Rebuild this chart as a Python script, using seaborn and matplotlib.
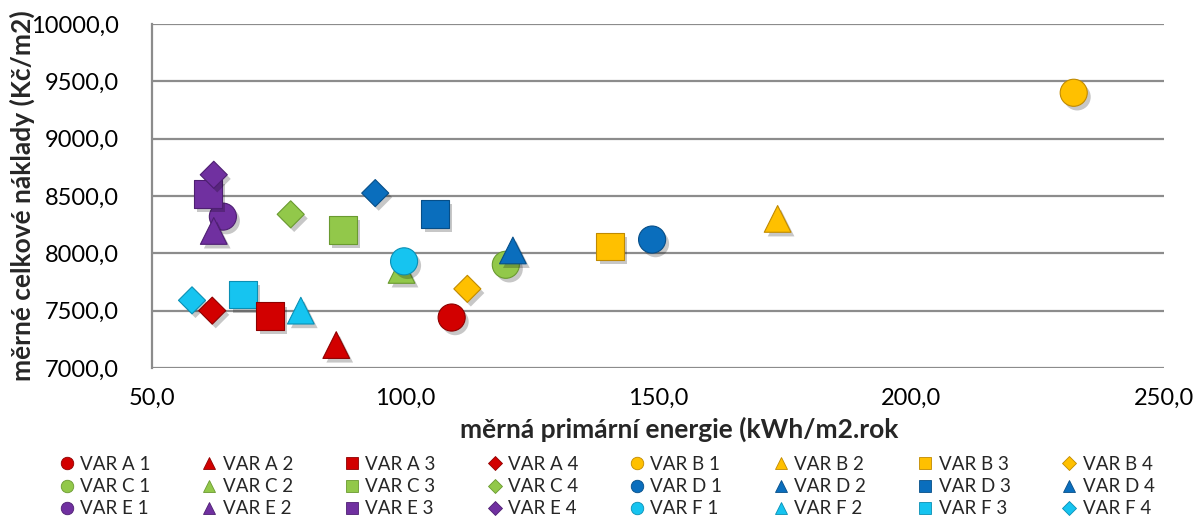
import matplotlib
matplotlib.use("Agg")
import matplotlib.pyplot as plt
import matplotlib.patheffects as pe
from matplotlib.lines import Line2D
from matplotlib.ticker import FuncFormatter, MultipleLocator
import seaborn as sns
import pandas as pd

sns.set_theme(style="white")
plt.rcParams["font.family"] = ["Lato", "DejaVu Sans"]

# Variants: group letter + number
groups = ["A", "B", "C", "D", "E", "F"]
numbers = [1, 2, 3, 4]

# primary energy (kWh/m2.rok) per variant, rows = groups, cols = numbers
energy_a = [109.2, 86.4, 73.3, 61.9]
energy_b = [232.1, 173.6, 140.5, 112.3]
energy_c = [119.9, 99.3, 87.7, 77.4]
energy_d = [148.8, 121.3, 105.9, 94.1]
energy_e = [64.0, 62.2, 61.0, 62.2]
energy_f = [99.8, 79.4, 68.0, 57.9]

# total specific cost (Kč/m2)
cost_a = [7440, 7200, 7450, 7500]
cost_b = [9400, 8300, 8060, 7690]
cost_c = [7900, 7855, 8205, 8340]
cost_d = [8120, 8025, 8345, 8525]
cost_e = [8320, 8195, 8520, 8685]
cost_f = [7930, 7500, 7640, 7590]

group_colors = {
    "A": "#D20000",
    "B": "#FFC000",
    "C": "#92C84A",
    "D": "#0A6EBD",
    "E": "#7030A0",
    "F": "#16C4F0",
}
edge_colors = {
    "A": "#8E0000",
    "B": "#C08A00",
    "C": "#6A9A30",
    "D": "#064E88",
    "E": "#4E1F72",
    "F": "#0A8FB4",
}
# marker in plot, marker in legend
plot_markers = {1: "o", 2: "^", 3: "s", 4: "D"}
legend_markers = {1: "o", 2: "^", 3: "s", 4: "D"}
marker_sizes = {"o": 380, "^": 370, "s": 400, "D": 190}

energy = dict(zip(groups, [energy_a, energy_b, energy_c, energy_d, energy_e, energy_f]))
cost = dict(zip(groups, [cost_a, cost_b, cost_c, cost_d, cost_e, cost_f]))

rows = []
for g in groups:
    for i, n in enumerate(numbers):
        rows.append({"name": f"VAR {g} {n}", "group": g, "num": n,
                     "energy": energy[g][i], "cost": cost[g][i]})
df = pd.DataFrame(rows)

fig = plt.figure(figsize=(11.97, 5.21), dpi=100)
ax = fig.add_axes([0.127, 0.2937, 0.8457, 0.6603])

shadow = [pe.SimplePatchShadow(offset=(2.5, -3), shadow_rgbFace="#000000", alpha=0.22),
          pe.Normal()]

draw_order = ["B", "C", "D", "E", "F", "A"]
for g in draw_order:
    sub = df[df["group"] == g]
    for _, r in sub.iterrows():
        m = plot_markers[r["num"]]
        sns.scatterplot(data=sub[sub["num"] == r["num"]], x="energy", y="cost",
                        marker=m, s=marker_sizes[m], color=group_colors[g],
                        edgecolor=edge_colors[g], linewidth=0.8, ax=ax,
                        legend=False, zorder=3)
for coll in ax.collections:
    coll.set_path_effects(shadow)

ax.set_xlim(50, 250)
ax.set_ylim(7000, 10000)
ax.xaxis.set_major_locator(MultipleLocator(50))
ax.yaxis.set_major_locator(MultipleLocator(500))
fmt = FuncFormatter(lambda v, p: f"{v:.1f}".replace(".", ","))
ax.xaxis.set_major_formatter(fmt)
ax.yaxis.set_major_formatter(fmt)
ax.tick_params(axis="both", labelsize=17, length=0, colors="black")
ax.tick_params(axis="x", pad=14)
ax.tick_params(axis="y", pad=24)

ax.grid(axis="y", color="#8C8C8C", linewidth=1.6)
ax.set_axisbelow(True)
for s in ["top", "right", "bottom"]:
    ax.spines[s].set_visible(False)
ax.spines["left"].set_color("#8C8C8C")
ax.spines["left"].set_linewidth(1.6)

ax.set_xlabel("")
ax.set_ylabel("")
fig.text(0.567, 0.175, "měrná primární energie (kWh/m2.rok", ha="center", va="center",
         fontsize=19, fontweight="bold")
fig.text(0.019, 0.625, "měrné celkové náklady (Kč/m2)", ha="center", va="center",
         rotation=90, fontsize=19, fontweight="bold")

# legend: 3 rows x 8 columns, filled row by row
names = list(df["name"])
handles = []
for _, r in df.iterrows():
    m = legend_markers[r["num"]]
    if r["group"] == "D" and r["num"] == 4:
        m = "^"
    ms = {"o": 9, "^": 9, "s": 9, "D": 7}[m]
    handles.append(Line2D([], [], linestyle="", marker=m, markersize=ms,
                          markerfacecolor=group_colors[r["group"]],
                          markeredgecolor=edge_colors[r["group"]], markeredgewidth=0.6))
ncol, nrow = 8, 3
order = [row * ncol + col for col in range(ncol) for row in range(nrow)]
fig.legend([handles[i] for i in order], [names[i] for i in order],
           loc="center", bbox_to_anchor=(0.507, 0.066), ncol=ncol, frameon=False,
           fontsize=13.5, handlelength=0.8, handletextpad=0.3, columnspacing=2.75,
           labelspacing=0.28, borderpad=0)

fig.savefig("out.png", dpi=100)
